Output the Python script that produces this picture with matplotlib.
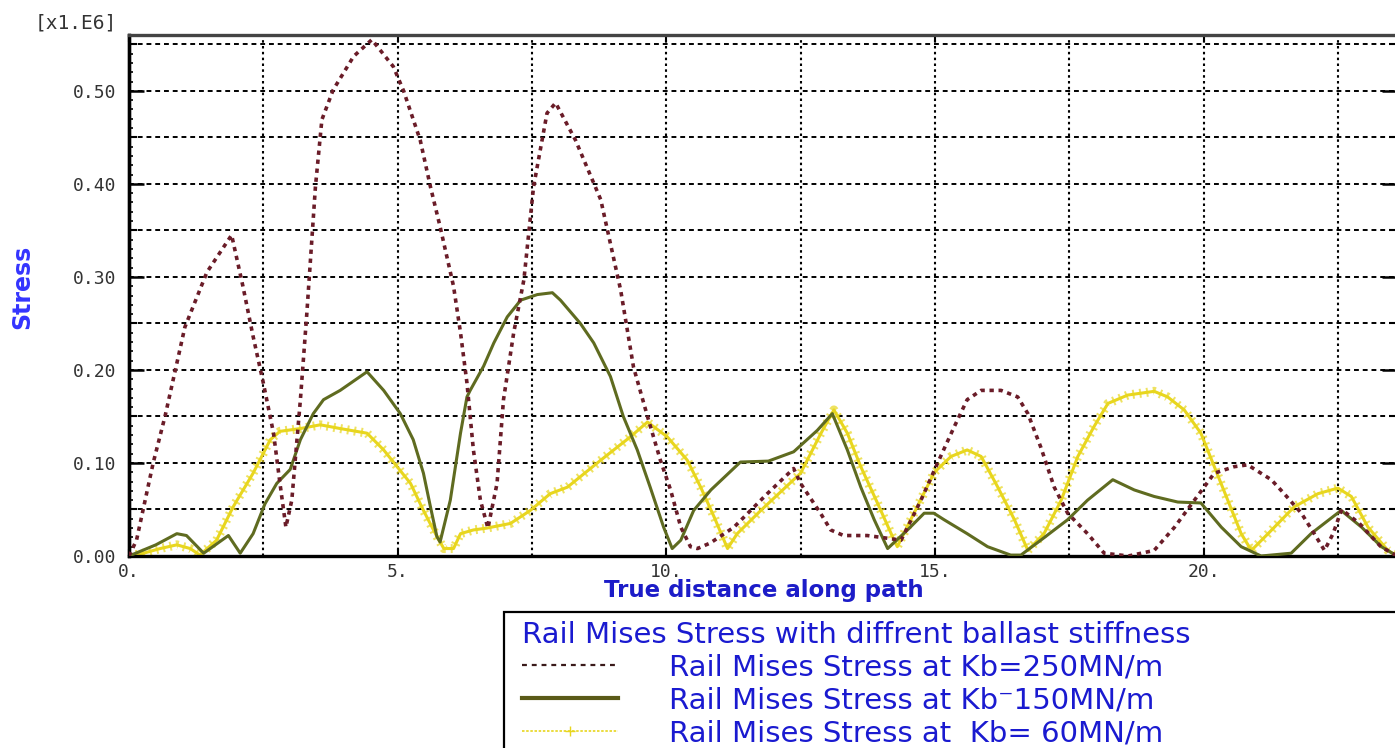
import matplotlib
matplotlib.use("Agg")
import matplotlib.pyplot as plt
from matplotlib.ticker import MultipleLocator, FixedLocator
from matplotlib.lines import Line2D
from matplotlib.patches import Rectangle

# ---------------- data ----------------
x_250 = [0, 0.14, 0.45, 0.67, 1.04, 1.45, 1.91, 2.12, 2.31, 2.5, 2.69, 2.81, 2.92, 3.03, 3.19,
         3.31, 3.47, 3.59, 3.80, 4.18, 4.52, 4.92, 5.11, 5.42, 5.61, 5.79, 6.04, 6.17, 6.29,
         6.41, 6.54, 6.68, 6.85, 6.97, 7.16, 7.35, 7.53, 7.78, 7.94, 8.31, 8.78, 9.15, 9.39,
         9.65, 9.89, 10.08, 10.27, 10.45, 10.58, 10.82, 11.26, 11.88, 12.37, 12.5, 12.87,
         13.06, 13.3, 13.74, 14.0, 14.37, 14.74, 15.05, 15.36, 15.6, 15.86, 16.23, 16.54,
         16.73, 16.97, 17.22, 17.47, 17.84, 18.15, 18.6, 19.08, 19.46, 19.83, 20.2, 20.57,
         20.82, 21.26, 21.5, 21.82, 22.06, 22.25, 22.41, 22.57, 22.9, 23.3, 23.6]
y_250 = [0, 0.017, 0.10, 0.15, 0.246, 0.305, 0.345, 0.29, 0.236, 0.186, 0.132, 0.078, 0.031, 0.06, 0.168,
         0.261, 0.397, 0.469, 0.501, 0.537, 0.555, 0.526, 0.50, 0.447, 0.397, 0.354, 0.29, 0.24, 0.186,
         0.114, 0.06, 0.03, 0.078, 0.168, 0.24, 0.297, 0.397, 0.476, 0.487, 0.447, 0.383, 0.286, 0.203,
         0.15, 0.103, 0.071, 0.031, 0.01, 0.008, 0.014, 0.031, 0.067, 0.094, 0.078, 0.046,
         0.028, 0.022, 0.022, 0.02, 0.017, 0.06, 0.10, 0.139, 0.168, 0.178, 0.178, 0.171,
         0.153, 0.117, 0.074, 0.046, 0.024, 0.003, 0.0, 0.006, 0.031, 0.06, 0.089, 0.096,
         0.098, 0.082, 0.067, 0.046, 0.024, 0.006, 0.024, 0.05, 0.035, 0.01, 0.0]

x_150 = [0, 0.5, 0.89, 1.07, 1.39, 1.85, 2.07, 2.31, 2.53, 2.75, 3.0, 3.19, 3.43, 3.62, 3.93,
         4.43, 4.74, 5.05, 5.29, 5.48, 5.61, 5.73, 5.79, 5.98, 6.17, 6.29, 6.35, 6.6, 6.79,
         7.04, 7.29, 7.6, 7.88, 8.03, 8.4, 8.65, 8.96, 9.2, 9.46, 9.7, 9.95, 10.11, 10.27,
         10.51, 10.83, 11.38, 11.9, 12.37, 12.81, 13.09, 13.37, 13.62, 13.87, 14.12, 14.49,
         14.8, 14.98, 15.17, 15.6, 15.98, 16.41, 16.6, 16.97, 17.47, 17.84, 18.31, 18.71,
         19.08, 19.52, 19.95, 20.33, 20.7, 21.07, 21.63, 22.0, 22.56, 22.94, 23.31, 23.6]
y_150 = [0, 0.012, 0.024, 0.022, 0.003, 0.022, 0.003, 0.024, 0.056, 0.078, 0.093, 0.125, 0.153, 0.168, 0.178,
         0.198, 0.178, 0.153, 0.125, 0.089, 0.053, 0.021, 0.015, 0.06, 0.132, 0.171, 0.178, 0.204, 0.229,
         0.257, 0.275, 0.281, 0.283, 0.275, 0.25, 0.229, 0.193, 0.15, 0.114, 0.074, 0.031, 0.008, 0.017,
         0.049, 0.071, 0.101, 0.102, 0.112, 0.135, 0.153, 0.114, 0.074, 0.039, 0.008, 0.028,
         0.046, 0.046, 0.039, 0.024, 0.01, 0.001, 0.001, 0.017, 0.039, 0.06, 0.082, 0.071,
         0.064, 0.058, 0.057, 0.031, 0.01, 0.0, 0.003, 0.024, 0.049, 0.031, 0.01, 0.0]

x_60 = [0, 0.27, 0.58, 0.89, 1.14, 1.32, 1.63, 1.94, 2.31, 2.63, 2.81, 3.19, 3.56, 3.93, 4.43,
        4.74, 4.99, 5.24, 5.48, 5.73, 5.86, 6.04, 6.17, 6.41, 6.66, 7.1, 7.47, 7.84, 8.16,
        8.78, 9.33, 9.65, 10.02, 10.39, 10.64, 10.89, 11.14, 11.32, 11.76, 12.5, 12.87,
        13.12, 13.37, 13.62, 13.93, 14.24, 14.3, 14.67, 14.99, 15.3, 15.6, 15.86, 16.17, 16.48,
        16.73, 17.03, 17.35, 17.66, 17.96, 18.22, 18.59, 19.08, 19.33, 19.64, 19.95, 20.2,
        20.45, 20.7, 20.89, 21.2, 21.69, 22.13, 22.5, 22.75, 23.06, 23.43, 23.6]
y_60 = [0, 0.003, 0.008, 0.012, 0.008, 0.001, 0.017, 0.053, 0.089, 0.125, 0.134, 0.137, 0.141, 0.137, 0.132,
        0.114, 0.096, 0.078, 0.049, 0.021, 0.008, 0.008, 0.024, 0.028, 0.03, 0.035, 0.049, 0.067, 0.074,
        0.103, 0.128, 0.144, 0.128, 0.103, 0.074, 0.042, 0.008, 0.024, 0.049, 0.089, 0.131,
        0.157, 0.132, 0.096, 0.057, 0.017, 0.01, 0.053, 0.09, 0.107, 0.114, 0.107, 0.074, 0.039,
        0.006, 0.024, 0.06, 0.107, 0.139, 0.164, 0.173, 0.177, 0.171, 0.157, 0.132, 0.096,
        0.06, 0.024, 0.006, 0.024, 0.053, 0.067, 0.073, 0.064, 0.031, 0.006, 0.0]

labels = ["Rail Mises Stress at Kb=250MN/m",
          "Rail Mises Stress at Kb\u207b150MN/m",
          "Rail Mises Stress at  Kb= 60MN/m"]
legend_title = "Rail Mises Stress with diffrent ballast stiffness"
x_ticks = [0, 5, 10, 15, 20]
x_ticklabels = ["0.", "5.", "10.", "15.", "20."]
y_ticks = [0.0, 0.1, 0.2, 0.3, 0.4, 0.5]
y_ticklabels = ["0.00", "0.10", "0.20", "0.30", "0.40", "0.50"]

assert len(x_250) == len(y_250) and len(x_150) == len(y_150) and len(x_60) == len(y_60)

# ---------------- figure ----------------
W, H = 1395, 748
fig = plt.figure(figsize=(W / 100, H / 100), dpi=100)
fig.patch.set_facecolor("white")
ax = fig.add_axes([129 / W, 1 - 556 / H, (1397 - 129) / W, (556 - 35) / H])

c_red = "#6a1c28"
c_green = "#5f6b20"
c_yel = "#e8d61e"

ax.plot(x_250, y_250, color=c_red, lw=2.6, linestyle=(0, (1.2, 1.3)), zorder=4)
ax.plot(x_150, y_150, color=c_green, lw=2.2, zorder=3)
# yellow line with plus-like cross-hatching
ax.plot(x_60, y_60, color=c_yel, lw=6.5, linestyle=(0, (0.22, 0.55)), alpha=0.7, zorder=2)
ax.plot(x_60, y_60, color=c_yel, lw=2.2, zorder=2)

ax.set_xlim(0, 23.6)
ax.set_ylim(0, 0.56)

ax.xaxis.set_major_locator(FixedLocator(x_ticks))
ax.set_xticklabels(x_ticklabels)
ax.xaxis.set_minor_locator(MultipleLocator(2.5))
ax.yaxis.set_major_locator(FixedLocator(y_ticks))
ax.set_yticklabels(y_ticklabels)
ax.yaxis.set_minor_locator(MultipleLocator(0.05))

for t in ax.get_xticklabels() + ax.get_yticklabels():
    t.set_fontfamily("DejaVu Sans Mono")
    t.set_fontsize(13)
    t.set_color("#333333")

ax.tick_params(axis="y", which="major", direction="in", length=11, width=1.8,
               left=True, right=True, pad=9)
ax.tick_params(axis="y", which="minor", direction="in", length=6, width=1.5,
               left=True, right=True)
ax.tick_params(axis="x", which="major", direction="in", length=5, width=1.5,
               bottom=True, top=True, pad=5)
ax.tick_params(axis="x", which="minor", direction="in", length=0, top=False, bottom=False)

# fine ticks on the left spine
sec = ax.secondary_yaxis("left")
sec.yaxis.set_major_locator(MultipleLocator(0.01))
sec.tick_params(direction="in", length=3, width=1.2, labelleft=False)
sec.spines["left"].set_linewidth(2.4)

ax.grid(True, axis="x", which="both", linestyle=(0, (1.2, 1.6)), color="black", lw=1.5)
ax.yaxis.grid(False)
for yv in [0.05 * k for k in range(1, 12)]:
    ax.axhline(yv, color="black", lw=1.4, linestyle=(0, (2.5, 2.0)), zorder=1)
ax.set_axisbelow(True)

for s in ["left", "bottom"]:
    ax.spines[s].set_linewidth(2.4)
    ax.spines[s].set_color("black")
ax.spines["top"].set_linewidth(2.4)
ax.spines["top"].set_color("#444444")
ax.spines["right"].set_linewidth(2.0)

fig.text(35 / W, 1 - 23 / H, "[x1.E6]", ha="left", va="center",
         family="DejaVu Sans Mono", fontsize=14, color="#333333")
fig.text(22 / W, 1 - 287 / H, "Stress", rotation=90, ha="center", va="center",
         family=["Liberation Sans Narrow", "DejaVu Sans"], fontweight="bold",
         fontsize=17, color="#3434ff")
fig.text(764 / W, 1 - 591 / H, "True distance along path", ha="center", va="center",
         family="DejaVu Sans", fontweight="bold", fontsize=16.5, color="#1c1cc8")

# legend frame (extends past the figure edge, as in the reference)
fig.patches.append(Rectangle((504 / W, -0.05), 1.0, 0.05 + (1 - 612 / H), transform=fig.transFigure,
                             facecolor="white", edgecolor="black", lw=1.6, zorder=5))

handles = [
    Line2D([], [], color="#3a1a1a", lw=1.6, linestyle=(0, (2.2, 2.2))),
    Line2D([], [], color="#5a5a18", lw=3.0),
    Line2D([], [], color=c_yel, lw=1.2, linestyle=(0, (1.5, 1.0)), marker="+",
           markersize=7, markevery=[0, -1]),
]
fs = 21
leg = fig.legend(handles, labels, title=legend_title, loc="upper left",
                 bbox_to_anchor=(522 / W, 1 - 621 / H), alignment="left",
                 prop=dict(family="DejaVu Sans", size=fs),
                 title_fontproperties=dict(family="DejaVu Sans", size=fs),
                 frameon=False, handlelength=3.3, handletextpad=1.75, labelspacing=0.16,
                 borderpad=0, borderaxespad=0)
leg.set_zorder(6)
for t in leg.get_texts():
    t.set_color("#1a1ad0")
leg.get_title().set_color("#1a1ad0")

fig.savefig("out.png", dpi=100, facecolor="white")
